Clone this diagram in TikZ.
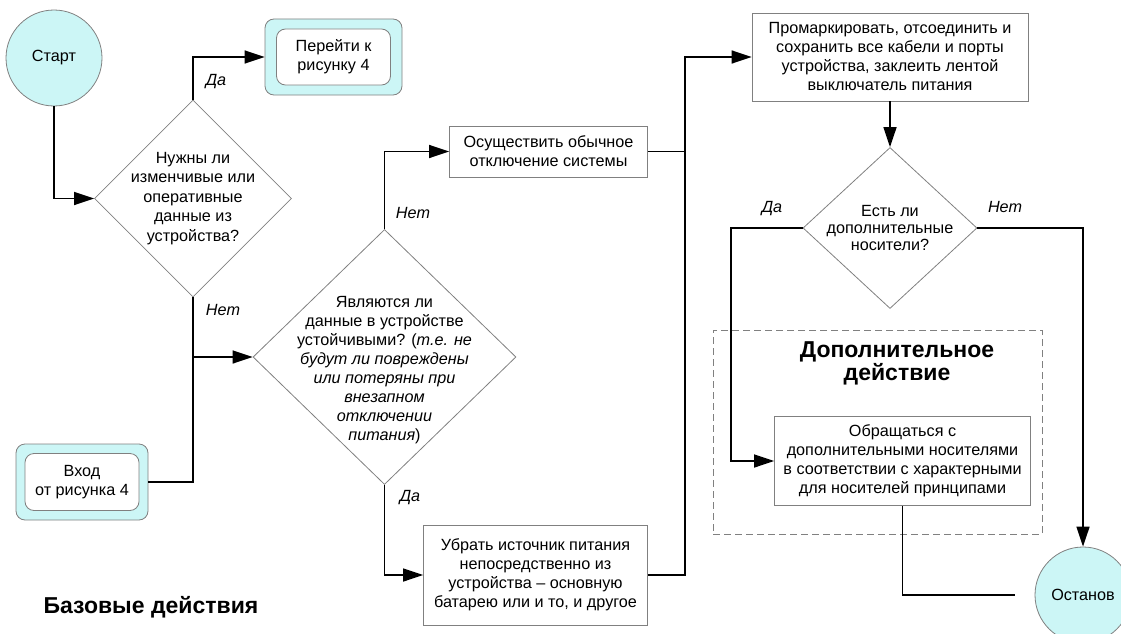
\documentclass[tikz,border=0pt]{standalone}
\usepackage{fontspec}
\setmainfont{Liberation Sans}
\usetikzlibrary{shapes.geometric,arrows.meta}
\definecolor{termcyan}{RGB}{204,246,246}

\begin{document}
\begin{tikzpicture}[x=1pt,y=-1pt,
	every node/.style={font=\fontsize{16.2}{19}\selectfont, align=center},
	flow/.style={line width=1.6pt, -{Triangle[length=20pt,width=13pt]}},
	wire/.style={line width=1.6pt},
	actbox/.style={draw=gray, line width=0.8pt, rectangle, inner sep=0pt},
	decision/.style={draw=gray, line width=0.8pt, diamond, inner sep=0pt},
	term/.style={draw=gray, line width=0.8pt, circle, fill=termcyan, inner sep=0pt, minimum size=96pt},
	linkout/.style={draw=gray, line width=0.8pt, rounded corners=9pt, fill=termcyan, inner sep=0pt},
	linkin/.style={draw=gray, line width=0.8pt, rounded corners=9pt, fill=white, inner sep=0pt},
	answer/.style={font=\fontsize{16.2}{19}\selectfont\itshape},
	title/.style={font=\fontsize{23}{23}\selectfont\bfseries}]
			\useasboundingbox (0,0) rectangle (1121,634);
			% base actions
			\node[term] (start) at (54,58) {Старт};
			\node[decision, minimum width=197pt, minimum height=197pt,
				label={[font=\fontsize{16.2}{19.5}\selectfont]center:{Нужны ли\\изменчивые или\\оперативные\\данные из\\устройства?}}] (q1) at (193,198.5) {};
			\node[linkout, minimum width=137pt, minimum height=76pt] (gotoout) at (333.5,57) {};
			\node[linkin, minimum width=114pt, minimum height=56pt] (goto) at (gotoout) {Перейти к\\рисунку 4};
			\node[linkout, minimum width=132pt, minimum height=76pt] (entryout) at (82,482) {};
			\node[linkin, minimum width=114pt, minimum height=57pt] (entry) at (entryout) {Вход\\от рисунка 4};
			\node[decision, minimum width=263pt, minimum height=255pt,
				label={[yshift=-13pt]center:{Являются ли\\данные в устройстве\\устойчивыми? (\textit{т.е. не}\\\textit{будут ли повреждены}\\\textit{или потеряны при}\\\textit{внезапном}\\\textit{отключении}\\\textit{питания})}}] (q2) at (384.5,357) {};
			\node[actbox, minimum width=198pt, minimum height=51pt] (shutdown) at (548.5,151.5) {Осуществить обычное\\отключение системы};
			\node[actbox, minimum width=224pt, minimum height=100pt] (unplug) at (535.5,575) {Убрать источник питания\\непосредственно из\\устройства – основную\\батарею или и то, и другое};
			\node[actbox, minimum width=276pt, minimum height=88pt] (mark) at (890,57) {Промаркировать, отсоединить и\\сохранить все кабели и порты\\устройства, заклеить лентой\\выключатель питания};
			\node[decision, minimum width=174pt, minimum height=161pt,
				label={[font=\fontsize{16.2}{17}\selectfont]center:{Есть ли\\дополнительные\\носители?}}] (q3) at (890,228) {};
			\node[title, anchor=west] (basic) at (40,607) {Базовые действия};
			% additional action
			\node[draw=gray, line width=0.8pt, dash pattern=on 7pt off 4pt, minimum width=329pt, minimum height=204pt] (extra) at (877.5,432) {};
			\node[title] (extratitle) at (897,363) {Дополнительное\\действие};
			\node[actbox, minimum width=256pt, minimum height=89pt] (handle) at (902.5,461) {Обращаться с\\дополнительными носителями\\в соответствии с характерными\\для носителей принципами};
			\node[term] (stop) at (1083,595) {Останов};
			% connectors
			\draw[flow] (start.south) |- (q1.west);
			\draw[flow] (q1.north) |- (gotoout.west);
			\draw[wire] (q1.south) -- (q1.south |- entryout.east) -- (entryout.east);
			\draw[flow] (q1.south |- q2.west) -- (q2.west);
			\draw[flow] (q2.north) |- (shutdown.west);
			\draw[flow] (q2.south) |- (unplug.west);
			\coordinate (bus) at (685,151.5);
			\draw[wire] (shutdown.east) -- (bus);
			\draw[flow] (unplug.east) -| (bus) |- (mark.west);
			\draw[flow] (mark.south) -- (q3.north);
			\coordinate (yesbend) at (731,228);
			\draw[flow] (q3.west) -- (yesbend) |- (handle.west);
			\draw[flow] (q3.east) -| (stop.north);
			\draw[wire, shorten >=20pt] (handle.south) |- (stop.west);
			% answers
			\foreach \x/\y/\t [count=\i] in {216/82/Да, 223/310/Нет, 413/213/Нет, 410/498/Да, 772/209/Да, 1005/207/Нет}
				\node[answer] (ans\i) at (\x,\y) {\t};
\end{tikzpicture}
\end{document}
